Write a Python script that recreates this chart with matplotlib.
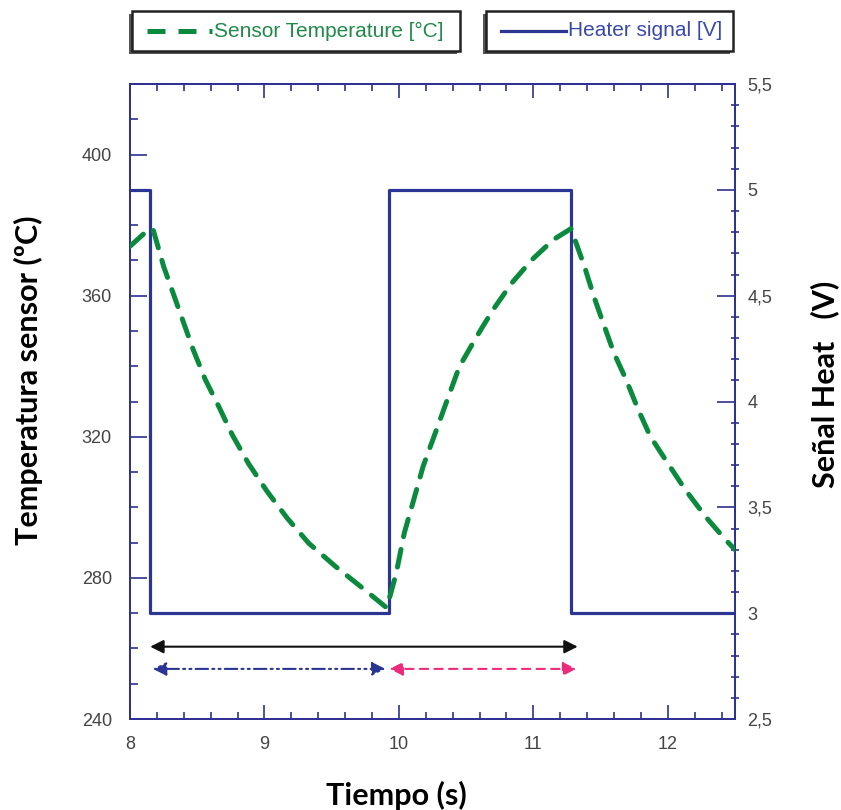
import matplotlib
matplotlib.use("Agg")
import matplotlib.pyplot as plt
from matplotlib.patches import Rectangle
from matplotlib.lines import Line2D
from matplotlib.ticker import MultipleLocator, FuncFormatter

# ---- data ----
sensor_t = [8.00, 8.11, 8.17, 8.25, 8.32, 8.40, 8.47, 8.56, 8.66, 8.76, 8.88, 9.02, 9.17, 9.33, 9.53, 9.73, 9.91,
            9.98, 10.04, 10.11, 10.18, 10.27, 10.36, 10.45, 10.58, 10.70, 10.84, 10.99, 11.15, 11.28,
            11.38, 11.45, 11.52, 11.60, 11.69, 11.78, 11.87, 12.00, 12.13, 12.28, 12.43, 12.50]
sensor_T = [374.0, 377.8, 379.0, 368.3, 360.8, 352.2, 344.7, 336.2, 328.6, 320.6, 312.5, 304.5, 296.9, 289.8, 283.2, 277.1, 271.5,
            281.3, 292.7, 302.1, 311.6, 321.0, 330.5, 339.9, 348.5, 356.0, 363.6, 370.2, 375.9, 379.0,
            368.3, 359.8, 352.2, 343.7, 336.2, 327.7, 320.1, 312.5, 305.0, 297.4, 290.8, 288.0]
heater_t = [8.0, 8.15, 9.93, 11.28, 12.5]
heater_V = [5.0, 3.0, 5.0, 3.0, 3.0]

arrow_total = (8.15, 11.33, 260.5)
arrow_cool = (8.17, 9.90, 254.2)
arrow_heat = (9.93, 11.32, 254.2)

legend_labels = ["Sensor Temperature [°C]", "Heater signal [V]"]
xlabel = "Tiempo (s)"
ylabel_left = "Temperatura sensor (ºC)"
ylabel_right = "Señal Heat   (V)"

# ---- style ----
AX_COL = "#2e3192"
GREEN = "#0b8a3e"
BLUE = "#2b3593"
PINK = "#ee2a7b"
TICK_COL = "#444444"

W, H = 841, 810
fig = plt.figure(figsize=(W / 100, H / 100), dpi=100)
L, R, T, B = 130, 735, 84, 719
ax = fig.add_axes([L / W, 1 - B / H, (R - L) / W, (B - T) / H])
ax2 = ax.twinx()

ax.plot(sensor_t, sensor_T, color=GREEN, lw=3.6, dashes=(3.6, 2.6), solid_capstyle="round",
        dash_capstyle="round", zorder=3)
ax2.plot(heater_t, heater_V, color=BLUE, lw=2.3, drawstyle="steps-post", zorder=4)

ax.set_xlim(8, 12.5)
ax.set_ylim(240, 420)
ax2.set_ylim(2.5, 5.5)
ax.set_zorder(ax2.get_zorder() + 1)
ax.patch.set_visible(False)

# arrows
def darrow(a, color, ls):
    x0, x1, y = a
    ax.annotate("", xy=(x0, y), xytext=(x1, y),
                arrowprops=dict(arrowstyle="<|-|>,head_length=0.8,head_width=0.4", color=color, lw=1.5,
                                linestyle=ls, shrinkA=0, shrinkB=0))

darrow(arrow_total, "#111111", "-")
darrow(arrow_cool, BLUE, (0, (6, 2, 1, 2, 1, 2)))
darrow(arrow_heat, PINK, (0, (4, 3)))

for a in (ax, ax2):
    for s in a.spines.values():
        s.set_color(AX_COL)
        s.set_linewidth(1.3)

ax.xaxis.set_major_locator(MultipleLocator(1))
ax.xaxis.set_minor_locator(MultipleLocator(0.2))
ax.yaxis.set_major_locator(MultipleLocator(40))
ax.yaxis.set_minor_locator(MultipleLocator(10))
ax2.yaxis.set_major_locator(MultipleLocator(0.5))
ax2.yaxis.set_minor_locator(MultipleLocator(0.1))

fmt = FuncFormatter(lambda v, p: (f"{v:g}").replace(".", ","))
ax2.yaxis.set_major_formatter(fmt)

ax.tick_params(axis="x", which="both", direction="in", top=True, colors=AX_COL, labelcolor=TICK_COL,
               labelsize=13, pad=12, width=1.2)
ax.tick_params(axis="x", which="major", length=10)
ax.tick_params(axis="x", which="minor", length=5)
ax.tick_params(axis="y", which="both", direction="in", left=True, right=False, colors=AX_COL,
               labelcolor=TICK_COL, labelsize=13, pad=13, width=1.2)
ax.tick_params(axis="y", which="major", length=12)
ax.tick_params(axis="y", which="minor", length=6)
ax2.tick_params(axis="y", which="major", direction="in", length=13, colors=AX_COL, labelcolor=TICK_COL,
                labelsize=13, pad=9, width=1.2)
ax2.tick_params(axis="y", which="minor", direction="inout", length=6, colors=AX_COL, width=1.2)
for lab in ax.get_xticklabels() + ax.get_yticklabels() + ax2.get_yticklabels():
    lab.set_family("Liberation Sans")

lab_font = dict(family="Lato", weight="bold", size=22, color="black")
ax.set_xlabel(xlabel, **lab_font)
ax.set_ylabel(ylabel_left, **lab_font)
ax2.set_ylabel(ylabel_right, **lab_font)
ax.xaxis.set_label_coords((396 - L) / (R - L), (B - 795) / (B - T))
ax.yaxis.set_label_coords((28 - L) / (R - L), (B - 380) / (B - T))
ax2.yaxis.set_label_coords((825 - L) / (R - L), (B - 384) / (B - T))
ax.xaxis.label.set_va("center")
ax.yaxis.label.set_va("center")
ax2.yaxis.label.set_va("center")

# legend boxes
def legend_box(x0, x1, y0, y1, handle, text, color):
    fx = lambda px: px / W
    fy = lambda py: 1 - py / H
    fig.add_artist(Rectangle((fx(x0 - 3), fy(y1 + 3)), (x1 - x0) / W, (y1 - y0) / H,
                             transform=fig.transFigure, facecolor="#555555", edgecolor="none", zorder=5))
    fig.add_artist(Rectangle((fx(x0), fy(y1)), (x1 - x0) / W, (y1 - y0) / H,
                             transform=fig.transFigure, facecolor="white", edgecolor="#222222",
                             lw=1.8, zorder=6))
    ym = fy((y0 + y1) / 2)
    fig.add_artist(handle(fx(x0 + 15), fx(x0 + 80), ym))
    fig.text(fx(x0 + 82), ym, text, color=color, fontsize=15, family="Liberation Sans",
             va="center", ha="left", zorder=8)

legend_box(132, 460, 11, 51,
           lambda a, b, y: Line2D([a, b], [y, y], transform=fig.transFigure, color=GREEN, lw=3.6,
                                  dashes=(3.6, 2.6), zorder=7),
           legend_labels[0], "#1f8a4a")
legend_box(486, 733, 11, 51,
           lambda a, b, y: Line2D([a, b], [y, y], transform=fig.transFigure, color=BLUE, lw=2.3, zorder=7),
           legend_labels[1], "#3a48a8")

fig.savefig("out.png", dpi=100)
